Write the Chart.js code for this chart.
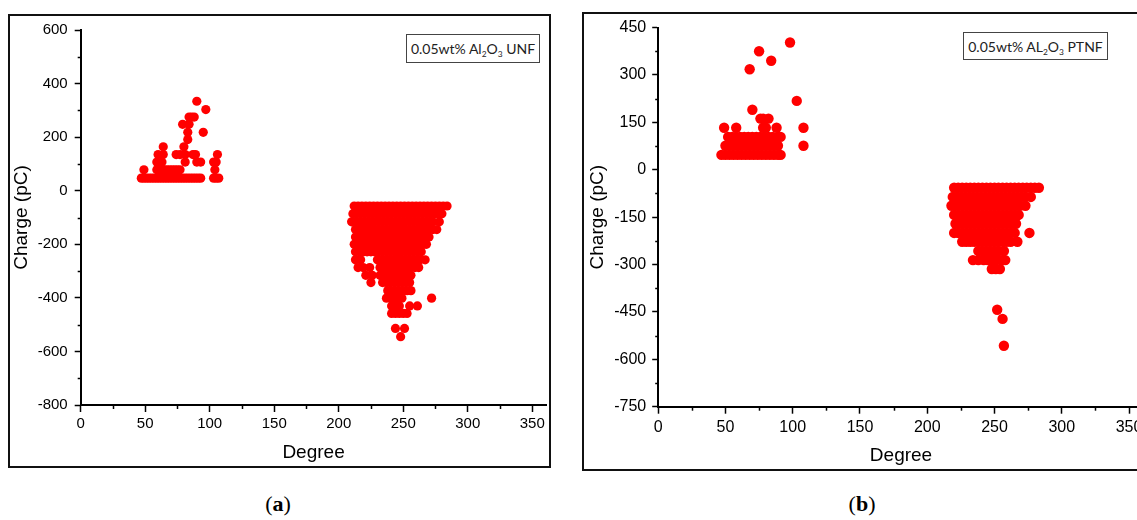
<!DOCTYPE html>
<html>
<head>
<meta charset="utf-8">
<script src="https://cdn.jsdelivr.net/npm/chart.js@4.4.1/dist/chart.umd.min.js"></script>
<style>
  html, body { margin: 0; padding: 0; background: #fff; overflow: hidden; width: 1137px; height: 520px; }
  .frame { position: absolute; border: 2px solid #111; box-sizing: border-box; pointer-events: none; }
  canvas { position: absolute; }
  .note { position: absolute; border: 1px solid #444; box-sizing: border-box; font-family: Lato, 'Open Sans', sans-serif; font-size: 14px; color: #222; display: flex; align-items: center; justify-content: center; white-space: pre; background: #fff; }
  .note sub { font-size: 0.6em; vertical-align: -0.4em; line-height: 0; }
  .cap { position: absolute; top: 491px; font-family: 'Liberation Serif', 'DejaVu Serif', serif; font-size: 22px; transform: translateX(-50%); color: #000; }
</style>
</head>
<body>
<canvas id="chartUNF" width="543" height="454" style="left:8px;top:14px"></canvas>
<div class="frame" style="left:8px;top:14px;width:543px;height:454px"></div>
<div class="note" style="left:406px;top:34px;width:134px;height:29px"><span>0.05wt% Al<sub>2</sub>O<sub>3</sub> UNF</span></div>

<canvas id="chartPTNF" width="570" height="459" style="left:582px;top:12px"></canvas>
<div class="frame" style="left:582px;top:12px;width:570px;height:459px"></div>
<div class="note" style="left:963px;top:32px;width:145px;height:28px"><span>0.05wt% AL<sub>2</sub>O<sub>3</sub> PTNF</span></div>

<div class="cap" style="left:278px">(<b>a</b>)</div>
<div class="cap" style="left:862px">(<b>b</b>)</div>

<script>
// tick values
const degreeTicks = [0, 50, 100, 150, 200, 250, 300, 350];
const degreeMinor = [25, 75, 125, 175, 225, 275, 325];
const chargeTicksUNF = [-800, -600, -400, -200, 0, 200, 400, 600];
const chargeMinorUNF = [-700, -500, -300, -100, 100, 300, 500];
const chargeTicksPTNF = [-750, -600, -450, -300, -150, 0, 150, 300, 450];
const chargeMinorPTNF = [-675, -525, -375, -225, -75, 75, 225, 375];

// (a) UNF: charge levels (pC) and the phase angles (deg) read at each level
const unfLevels = [334, 303, 275, 248, 218, 191, 164, 135, 107, 78, 47,
  -57, -86, -116, -145, -173, -200, -228, -258, -287, -316, -343, -373, -401, -430, -458, -514, -545];
const unfDegrees = [
  [90],
  [97],
  [84, 86, 88],
  [79, 84],
  [83, 95],
  [83],
  [64, 80],
  [60, 64, 74, 77, 81, 87, 89, 106],
  [59, 63, 81, 90, 93, 103, 105],
  [49, 59, 61, 63, 65, 67, 69, 71, 73, 75, 77, 104],
  [47, 49, 51, 53, 55, 57, 59, 61, 63, 65, 67, 69, 71, 73, 75, 77, 79, 81, 83, 85, 87, 89, 91, 93, 103, 105, 107],
  [212, 215, 218, 221, 224, 227, 230, 233, 236, 239, 242, 245, 248, 251, 254, 257, 260, 263, 266, 269, 272, 275, 278, 281, 284],
  [211, 214, 217, 220, 223, 226, 229, 232, 235, 238, 241, 244, 247, 250, 253, 256, 259, 262, 265, 268, 271, 274, 277, 280],
  [210, 213, 216, 219, 222, 225, 228, 231, 234, 237, 240, 243, 246, 249, 252, 255, 258, 261, 264, 267, 270, 273, 278],
  [213, 216, 219, 222, 225, 228, 231, 234, 237, 240, 243, 246, 249, 252, 255, 258, 261, 264, 267, 270, 273, 276],
  [213, 216, 219, 222, 225, 228, 231, 234, 237, 240, 243, 246, 249, 252, 255, 258, 261, 264, 267, 270],
  [212, 215, 218, 221, 224, 227, 230, 233, 236, 239, 242, 245, 248, 251, 254, 257, 260, 263, 266, 268],
  [213, 216, 219, 222, 225, 228, 231, 234, 237, 240, 243, 246, 249, 252, 255, 258, 261, 264],
  [213, 217, 230, 233, 236, 239, 242, 245, 248, 251, 254, 257, 260, 263, 267],
  [215, 219, 224, 232, 235, 238, 241, 244, 247, 250, 253, 256, 259, 262],
  [221, 226, 232, 235, 238, 241, 244, 247, 250, 253, 256],
  [225, 234, 237, 240, 243, 246, 249, 252, 255],
  [238, 241, 244, 247, 250, 253, 256],
  [237, 240, 243, 246, 249, 272],
  [241, 244, 247, 255, 261],
  [241, 244, 247, 250, 253],
  [244, 251],
  [248]
];

// (b) PTNF
const ptnfLevels = [403, 375, 345, 318, 218, 190, 162, 133, 104, 76, 47,
  -57, -86, -114, -143, -171, -200, -228, -257, -286, -314, -443, -472, -557];
const ptnfDegrees = [
  [98],
  [75],
  [84],
  [68],
  [103],
  [70],
  [76, 78, 82],
  [49, 58, 78, 80, 88, 108],
  [52, 55, 58, 61, 64, 67, 70, 73, 76, 79, 82, 85, 89, 91],
  [50, 53, 56, 59, 62, 65, 68, 71, 74, 77, 80, 83, 86, 89, 108],
  [47, 50, 53, 56, 59, 62, 65, 68, 71, 74, 77, 80, 83, 86, 89, 91],
  [220, 223, 226, 229, 232, 235, 238, 241, 244, 247, 250, 253, 256, 259, 262, 265, 268, 271, 274, 277, 280, 283],
  [219, 222, 225, 228, 231, 234, 237, 240, 243, 246, 249, 252, 255, 258, 261, 264, 267, 270, 273, 277],
  [218, 221, 224, 227, 230, 233, 236, 239, 242, 245, 248, 251, 254, 257, 260, 263, 266, 269, 273],
  [220, 223, 226, 229, 232, 235, 238, 241, 244, 247, 250, 253, 256, 259, 262, 265, 268],
  [221, 224, 227, 230, 233, 236, 239, 242, 245, 248, 251, 254, 257, 260, 263, 266],
  [220, 223, 226, 229, 232, 235, 238, 241, 244, 247, 250, 253, 256, 259, 262, 265, 276],
  [226, 229, 232, 235, 238, 241, 244, 247, 250, 253, 256, 259, 262, 267],
  [238, 241, 244, 247, 250, 253, 257],
  [234, 238, 242, 245, 248, 251, 255, 258],
  [248, 251, 254],
  [252],
  [256],
  [257]
];

function toPoints(levels, degrees) {
  const pts = [];
  levels.forEach((q, i) => degrees[i].forEach(d => pts.push({ x: d, y: q })));
  return pts;
}

// small ticks between the labelled ones
const minorTicks = {
  id: 'minorTicks',
  afterDraw(chart, args, opts) {
    const { ctx, scales: { x, y } } = chart;
    ctx.save();
    ctx.strokeStyle = '#000';
    ctx.lineWidth = 1.5;
    opts.x.forEach(v => {
      const px = Math.round(x.getPixelForValue(v)) + 0.5;
      ctx.beginPath(); ctx.moveTo(px, y.bottom); ctx.lineTo(px, y.bottom + 4); ctx.stroke();
    });
    opts.y.forEach(v => {
      const py = Math.round(y.getPixelForValue(v)) + 0.5;
      ctx.beginPath(); ctx.moveTo(x.left, py); ctx.lineTo(x.left - 3, py); ctx.stroke();
    });
    ctx.restore();
  }
};

const fontFam = "'Liberation Sans', Arial, sans-serif";

function makeChart(id, c) {
  return new Chart(document.getElementById(id), {
    type: 'scatter',
    data: {
      datasets: [{
        data: toPoints(c.levels, c.degrees),
        pointRadius: c.radius,
        pointHoverRadius: c.radius,
        pointBackgroundColor: '#ff0000',
        pointBorderWidth: 0,
        borderColor: '#ff0000'
      }]
    },
    options: {
      responsive: false,
      animation: false,
      devicePixelRatio: 1,
      events: [],
      layout: { padding: { top: c.padTop, right: c.padRight, bottom: 0, left: 0 } },
      plugins: {
        legend: { display: false },
        tooltip: { enabled: false },
        minorTicks: { x: degreeMinor, y: c.yMinor }
      },
      scales: {
        x: {
          type: 'linear', min: 0, max: 361,
          afterBuildTicks: s => { s.ticks = degreeTicks.map(v => ({ value: v })); },
          afterFit: s => { s.height = c.xHeight; },
          ticks: { color: '#000', font: { family: fontFam, size: c.tickSize }, padding: c.xPad, maxRotation: 0 },
          grid: { drawOnChartArea: false, tickLength: 7, tickColor: '#000', tickWidth: 1.5 },
          border: { color: '#000', width: 2 },
          title: { display: true, text: 'Degree', color: '#000', font: { family: fontFam, size: 19 }, padding: { top: 0, bottom: 4 } }
        },
        y: {
          type: 'linear', min: c.yMin, max: c.yMax,
          afterBuildTicks: s => { s.ticks = c.yTicks.map(v => ({ value: v })); },
          afterFit: s => { s.width = c.yWidth; },
          ticks: { color: '#000', font: { family: fontFam, size: c.tickSize }, padding: c.yPad },
          grid: { drawOnChartArea: false, tickLength: 6, tickColor: '#000', tickWidth: 1.5 },
          border: { color: '#000', width: 2 },
          title: { display: true, text: 'Charge (pC)', color: '#000', font: { family: fontFam, size: 19 }, padding: { top: c.titlePad, bottom: 0 } }
        }
      }
    },
    plugins: [minorTicks]
  });
}

makeChart('chartUNF', {
  levels: unfLevels, degrees: unfDegrees, radius: 4.6,
  yMin: -800, yMax: 600, yTicks: chargeTicksUNF, yMinor: chargeMinorUNF,
  padTop: 15.3, padRight: 4, xHeight: 63, yWidth: 72.7,
  tickSize: 15, xPad: 3, yPad: 7, titlePad: 2
});

makeChart('chartPTNF', {
  levels: ptnfLevels, degrees: ptnfDegrees, radius: 5.2,
  yMin: -750, yMax: 450, yTicks: chargeTicksPTNF, yMinor: chargeMinorPTNF,
  padTop: 13, padRight: 8.2, xHeight: 64.3, yWidth: 76.2,
  tickSize: 16, xPad: 4, yPad: 6, titlePad: 4.8
});
</script>
</body>
</html>
